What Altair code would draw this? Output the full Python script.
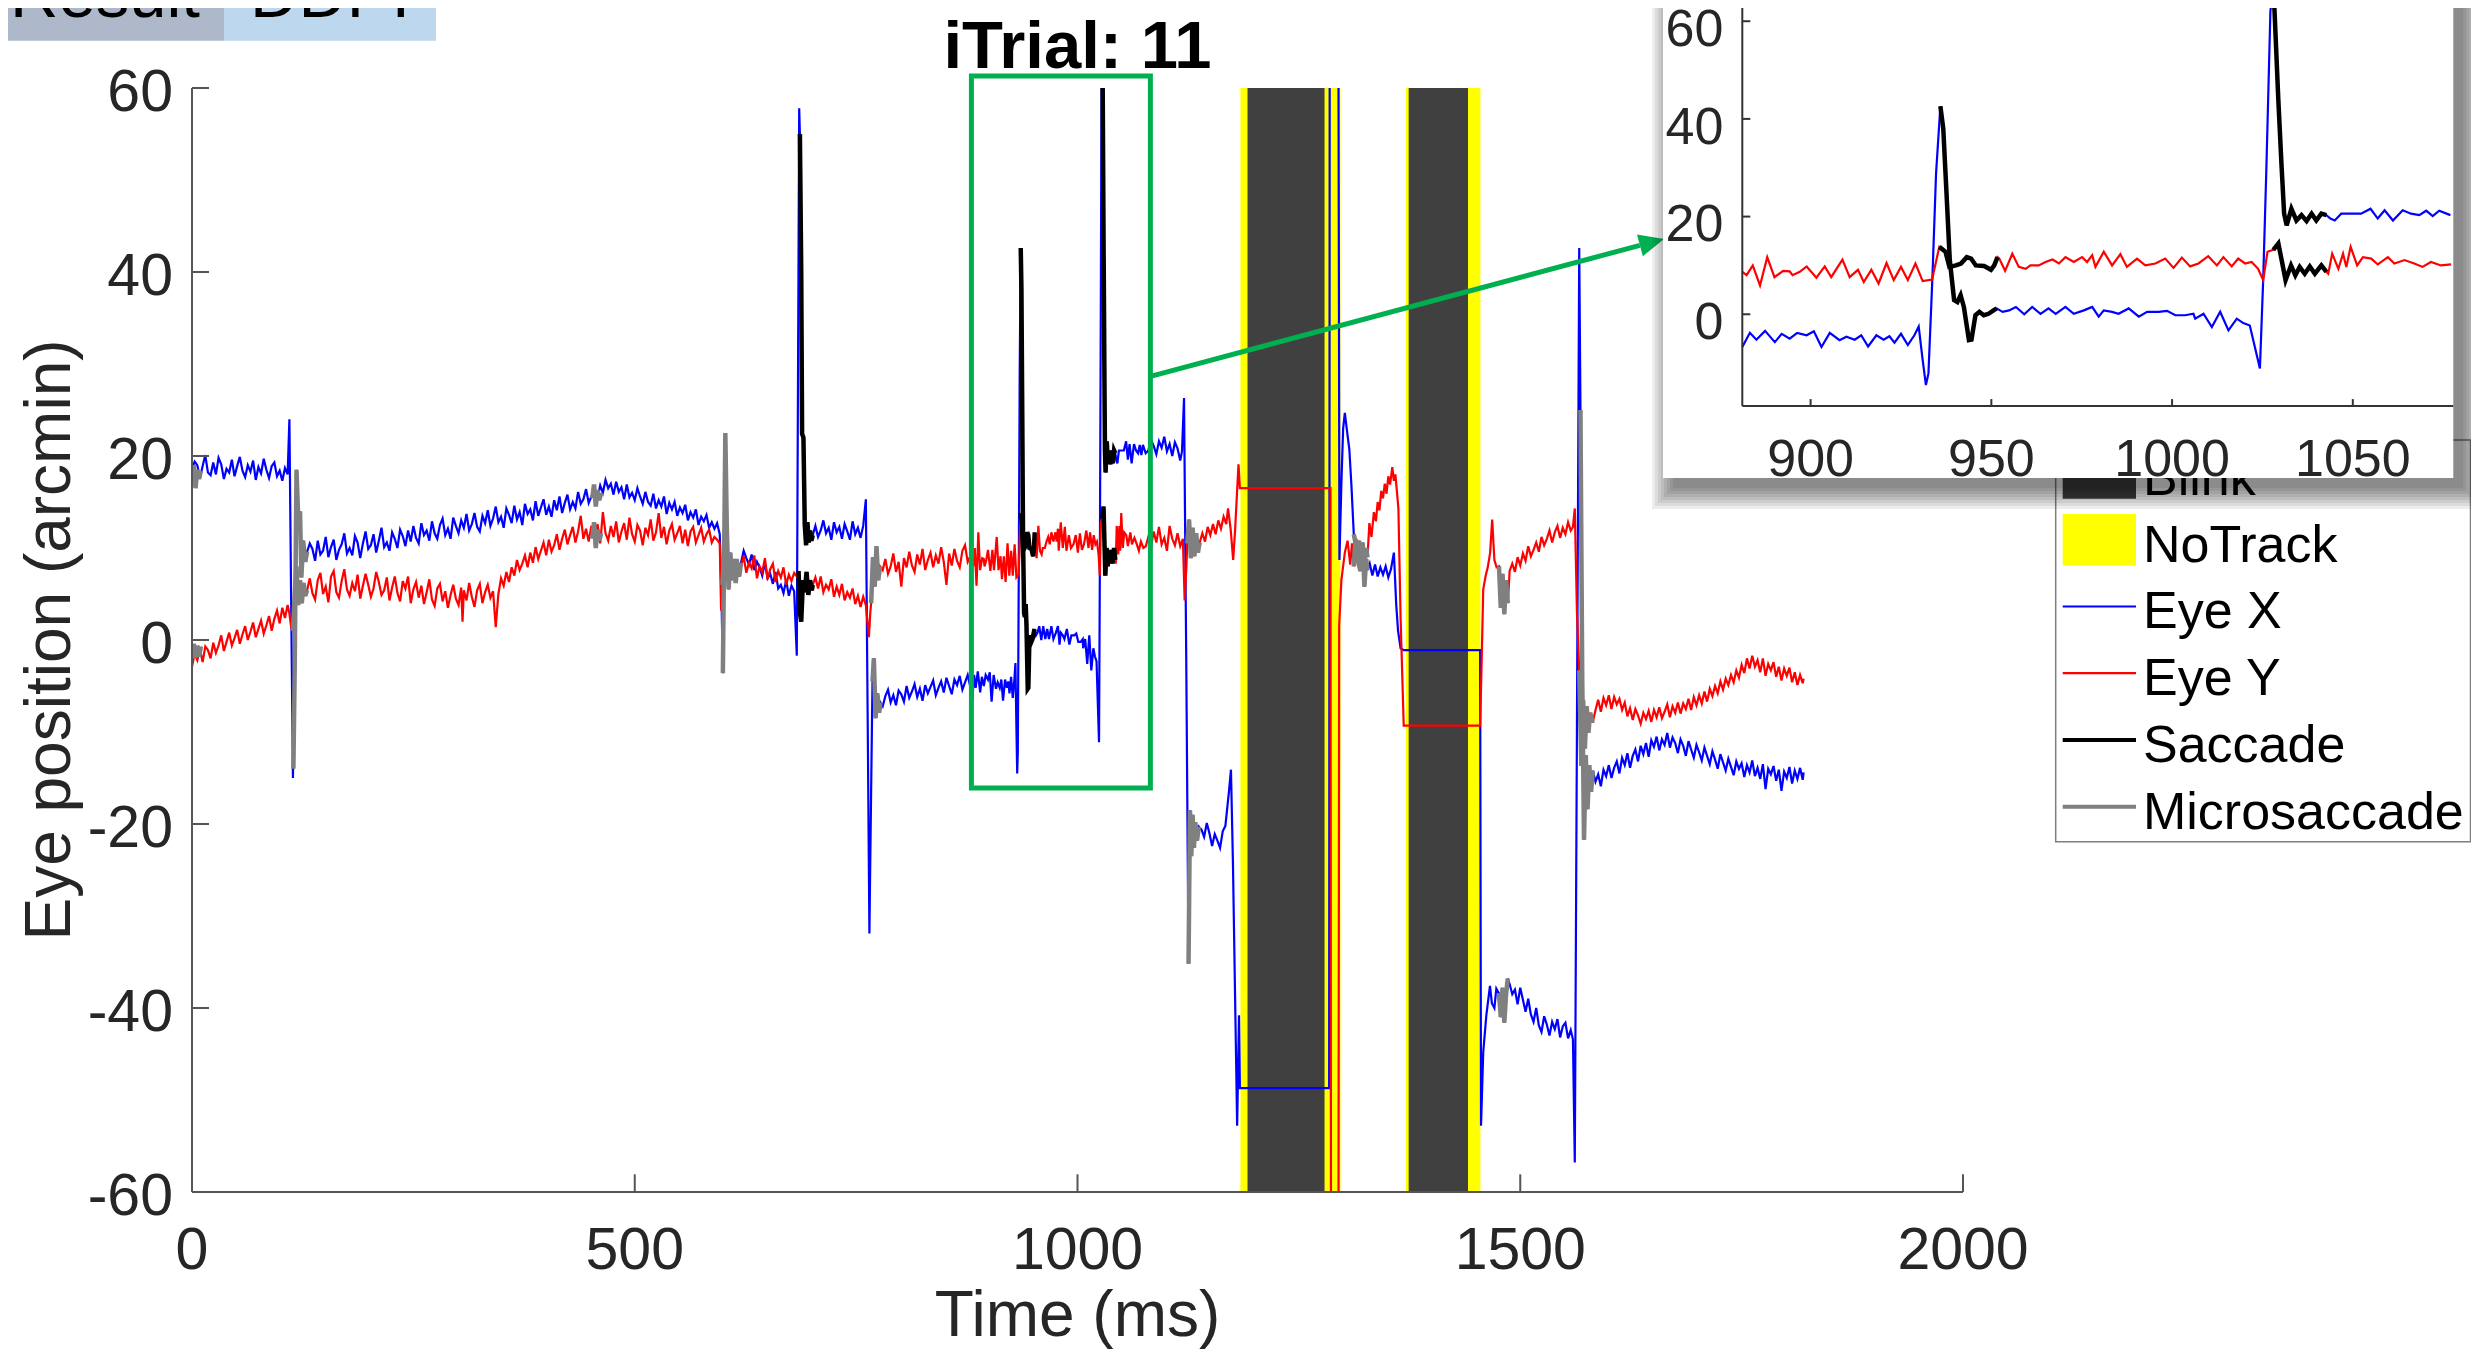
import altair as alt
import pandas as pd

# ---------------- data ----------------
# Eye X trace (time ms, arcmin)
EYE_X = [
 (0,18.6),(3,19.4),(6,19.0),(9,17.6),(12,18.9),(15,20.1),(18,18.2),(21,17.9),(24,19.3),(27,18.0),
 (30,19.8),(33,19.1),(36,17.5),(39,18.6),(42,18.2),(45,19.6),(48,17.8),(51,18.9),(54,19.9),(57,18.4),
 (60,17.7),(63,19.0),(66,18.3),(69,19.5),(72,17.4),(75,18.8),(78,18.1),(81,19.7),(84,18.5),(87,17.6),
 (90,18.9),(93,19.3),(96,17.8),(99,18.4),(102,17.3),(105,18.7),(108,18.0),
 (110,24.0),(112,4.0),(114,-15.0),(116,-3.0),(118,18.5),(120,13.0),(122,14.0),(123.5,6.8),(125.5,10.8),(128,8.5),(130,9.6),
 (133,10.5),(136,9.9),(139,8.6),(142,10.8),(145,9.3),(148,9.7),(151,11.2),(154,9.0),(157,10.1),(160,10.9),
 (163,8.7),(166,9.8),(169,10.4),(172,11.6),(175,9.4),(178,10.0),(181,9.2),(184,11.3),(187,10.6),(190,8.9),
 (193,10.5),(196,11.8),(199,9.9),(202,10.3),(205,11.5),(208,9.5),(211,10.8),(214,12.2),(217,10.1),(220,10.6),
 (223,9.7),(226,11.7),(229,11.0),(232,10.0),(235,12.0),(238,11.3),(241,10.2),(244,11.9),(247,10.7),(250,12.4),
 (253,11.1),(256,10.5),(259,12.7),(262,11.4),(265,11.9),(268,10.8),(271,12.9),(274,11.6),(277,11.0),(280,12.5),
 (283,13.2),(286,11.4),(289,12.1),(292,11.0),(295,13.3),(298,12.4),(301,11.6),(304,13.0),(307,12.2),(310,13.7),
 (313,11.9),(316,12.6),(319,13.8),(322,12.3),(325,11.8),(328,13.5),(331,12.7),(334,14.1),(337,12.4),(340,13.2),
 (343,14.5),(346,12.8),(349,13.4),(352,12.2),(355,14.3),(358,13.6),(361,12.7),(364,14.6),(367,13.1),(370,13.9),
 (373,12.5),(376,14.8),(379,13.7),(382,14.2),(385,13.0),(388,15.1),(391,13.5),(394,14.4),(397,15.3),(400,13.6),
 (403,14.5),(406,13.4),(409,15.2),(412,14.1),(415,15.6),(418,13.8),(421,14.9),(424,15.8),(427,14.2),(430,15.0),
 (433,14.3),(436,16.1),(439,14.8),(442,15.3),(445,16.4),(448,14.9),(451,15.6),
 (455,16.3),(458,15.4),(461,16.8),(464,16.0),(467,17.4),(470,16.5),(473,17.0),(476,15.8),(479,17.2),(482,16.1),
 (485,16.6),(488,15.3),(491,16.9),(494,15.5),(497,16.0),(500,15.2),(503,16.5),(506,15.6),(509,14.8),(512,16.1),
 (515,15.0),(518,14.6),(521,15.9),(524,14.3),(527,15.2),(530,14.5),(533,15.6),(536,13.7),(539,14.9),(542,14.2),
 (545,15.0),(548,13.5),(551,14.4),(554,13.8),(557,14.7),(560,13.0),(563,13.9),(566,13.3),(569,14.2),(572,12.5),
 (575,13.4),(578,12.9),(581,13.6),(584,12.2),(587,12.8),(590,12.1),(593,12.7),
 (596,11.5),(598,4.5),(599.5,-3.6),(601,10.0),(602.3,22.5),(604,12.0),(606,5.5),(608,9.5),(610,6.5),(612,8.8),
 (614,6.2),(616,8.3),(618,6.9),(620,8.4),
 (623,9.7),(626,8.9),(629,8.2),(632,9.3),(635,7.6),(638,8.5),(641,7.9),(644,7.0),(647,8.4),(650,6.7),
 (653,7.2),(656,6.1),(659,7.4),(662,5.6),(665,6.0),(668,5.1),(671,6.5),(674,4.8),(677,5.9),(680,5.3),
 (683,-1.7),(685.7,57.8),(686.5,55.0),(688,40.0),(689,22.4),(690.5,22.0),(692,12.5),(693.5,10.3),(695,12.8),(696.5,10.6),
 (698,11.9),(699.5,10.8),(701,11.4),
 (704,12.4),(707,11.2),(710,11.9),(713,13.0),(716,11.6),(719,12.2),(722,10.9),(725,12.8),(728,11.7),(731,12.3),
 (734,11.0),(737,12.6),(740,11.8),(743,10.9),(746,12.9),(749,11.5),(752,12.2),(755,11.1),(758,12.4),
 (761,15.3),(763,-8.0),(765,-31.9),(767,-16.0),(768.5,-4.5),(770,-2.0),(772,-8.5),(774,-5.8),(776,-7.9),(777.5,-6.8),
 (780,-7.2),(783,-6.1),(786,-5.4),(789,-6.8),(792,-6.0),(795,-7.1),(798,-5.5),(801,-5.9),(804,-6.7),(807,-5.0),
 (810,-6.3),(813,-5.6),(816,-4.8),(819,-6.2),(822,-5.3),(825,-6.6),(828,-4.9),(831,-5.8),(834,-5.1),(837,-4.4),
 (840,-6.0),(843,-5.2),(846,-4.5),(849,-5.7),(852,-4.1),(855,-5.0),(858,-5.9),(861,-4.3),(864,-4.9),(867,-3.9),
 (870,-5.4),(873,-4.6),(876,-3.8),(879,-5.1),
 (881.1,-6.7),(883.2,-3.8),(885,-5.2),(887.4,-3.4),(890.1,-5.7),(892,-4.0),(894.2,-5.0),(896.3,-3.8),(898.9,-4.3),(900.9,-3.5),
 (903,-6.7),(905.3,-3.8),(908,-5.3),(909.9,-4.6),(912.2,-5.2),(914,-4.3),(915.9,-6.6),(918.2,-4.3),(920.2,-5.2),(921.8,-4.5),
 (923.2,-5.8),(925,-4.0),(926.9,-6.3),(928.7,-4.3),(929.9,-2.5),(931,-9.4),(931.9,-14.5),(932.6,-12.1),(933.7,7.6),(934.7,28.8),
 (935.9,42.6),(936.7,38.0),(937.6,24.7),(938.5,11.1),(939.7,2.9),(940.6,2.5),(941.5,3.9),(942.4,1.5),(943.8,-5.3),(944.5,-5.2),
 (945.6,-0.2),(946.7,0.5),(947.9,-0.2),(949.2,0.1),(950.6,0.8),(951.5,1.2),(953.1,0.5),(954.9,0.8),(956.8,1.5),(959.1,0.0),
 (961.3,1.5),(963.6,0.1),(965.8,1.2),(967.8,0.1),(970.5,1.5),(972.8,0.1),(975.6,0.8),(977.9,1.5),(979.7,-0.5),(981.1,0.8),
 (983.4,0.5),(985.2,0.1),(988,1.2),(990.8,-0.5),(993.1,0.5),(996.3,0.5),(998.6,0.7),(1000.9,-0.2),(1003.6,-0.2),(1005.9,0.1),
 (1006.4,-0.9),(1008.7,0.1),(1011,-2.6),(1013.3,0.5),(1015.6,-3.3),(1017.9,-0.9),(1019.7,-1.8),(1021.5,-2.3),(1022.9,-6.7),(1024.3,-11.1),
 (1025.2,7.0),(1026.1,30.2),(1027.2,62.0),(1028,68.0),(1029.4,43.8),(1030.3,30.2),(1031,20.6),(1031.7,18.2),(1033,21.6),(1034.4,19.2),
 (1035.8,20.3),(1037.2,19.1),(1038.6,20.6),(1039.9,19.2),(1041.3,20.6),(1042.7,20.3),(1043.8,19.6),(1045,19.2),(1046.8,20.6),(1049.6,20.6),
 (1052.3,20.6),(1054.9,21.6),(1056.9,19.6),(1058.8,21.3),(1061.1,19.2),(1063.8,21.3),(1066.1,20.6),(1068.4,20.3),(1070.3,21.2),(1072.1,20.1),
 (1073.9,21.2),(1077,20.3),
 (1080,20.6),(1083,21.8),(1086,21.1),(1089,20.2),(1092,21.6),(1095,20.9),(1098,22.1),(1101,20.5),(1104,21.3),(1107,20.0),
 (1110,21.5),(1113,20.8),(1116,19.5),
 (1118,20.5),(1120.3,26.3),(1122.8,-2.0),(1125.4,-35.2),(1127,-18.5),(1128.5,-23.5),(1130,-19.0),(1131.5,-22.6),(1133,-19.8),(1135,-21.8),
 (1137,-20.3),(1140,-20.6),(1143,-21.4),(1146,-19.9),(1149,-21.0),(1152,-22.4),(1155,-21.1),(1158,-21.8),(1161,-22.6),(1164,-20.8),
 (1167,-20.2),(1171,-16.5),(1173.3,-14.1),(1175.5,-24.0),(1178.3,-40.8),(1180.3,-52.8),(1182.4,-40.8),(1183.4,-48.7),(1284.2,-48.7),(1285,100.0),
 (1294,100.0),(1295.8,8.7),(1298,17.0),(1300,23.0),(1301.9,24.7),(1304,23.0),(1307,20.7),(1309.4,16.7),(1312,11.5),(1314.5,10.3),
 (1317,8.5),(1319.5,7.5),(1322,10.6),(1324,5.8),(1326,8.8),(1327.5,7.6),
 (1330,8.3),(1333,7.0),(1336,8.2),(1339,6.9),(1342,7.9),(1345,7.1),(1348,8.0),(1351,6.8),(1354,7.7),
 (1357.3,9.5),(1359.9,3.9),(1362,1.0),(1364.9,-0.9),(1368.4,-1.1),(1454.7,-1.1),(1455.7,-52.8),(1458.2,-44.8),(1461.7,-40.8),(1465.8,-37.6),
 (1468,-39.5),(1470.8,-40.0),(1473,-37.9),(1475.9,-38.4),(1478,-41.0),(1480,-37.8),(1482,-41.6),(1484,-38.5),(1485.9,-36.8),
 (1488,-37.4),(1491,-38.5),(1494,-38.0),(1497,-39.6),(1500,-37.8),(1503,-39.1),(1506,-40.4),(1509,-39.0),(1512,-40.7),(1515,-41.5),
 (1518,-40.0),(1521,-41.9),(1524,-42.6),(1527,-40.9),(1530,-41.8),(1533,-43.0),(1536,-41.5),(1539,-42.3),(1542,-41.2),(1545,-43.2),
 (1548,-42.0),(1551,-41.6),(1554,-43.3),(1557,-42.4),(1559.5,-43.4),
 (1561.6,-56.8),(1564,-10.0),(1566.6,42.6),(1568,25.0),(1570,-4.1),(1572,-21.7),(1574,-12.5),(1576,-18.4),(1578,-13.6),(1580,-16.5),
 (1582,-14.2),
 (1585,-15.4),(1588,-14.6),(1591,-15.9),(1594,-14.1),(1597,-14.8),(1600,-13.6),(1603,-15.0),(1606,-13.9),(1609,-13.2),(1612,-14.5),
 (1615,-12.8),(1618,-13.6),(1621,-12.3),(1624,-13.9),(1627,-12.6),(1630,-11.9),(1633,-13.2),(1636,-11.5),(1639,-12.4),(1642,-11.2),
 (1645,-12.7),(1648,-10.9),(1651,-11.6),(1654,-10.5),(1657,-12.0),(1660,-10.8),(1663,-11.4),(1666,-10.1),(1669,-11.7),(1672,-10.6),
 (1675,-11.2),(1678,-12.3),(1681,-10.8),(1684,-11.5),(1687,-12.6),(1690,-11.0),(1693,-11.9),(1696,-12.8),(1699,-11.4),(1702,-12.2),
 (1705,-13.1),(1708,-11.7),(1711,-12.6),(1714,-13.5),(1717,-12.1),(1720,-13.0),(1723,-14.0),(1726,-12.4),(1729,-13.3),(1732,-14.2),
 (1735,-12.9),(1738,-13.8),(1741,-14.7),(1744,-13.2),(1747,-14.0),(1750,-13.4),(1753,-14.9),(1756,-13.6),(1759,-14.4),(1762,-13.1),
 (1765,-14.8),(1768,-13.9),(1771,-15.1),(1774,-13.5),(1777,-16.2),(1780,-14.0),(1783,-14.6),(1786,-13.7),(1789,-15.3),(1792,-14.1),
 (1795,-16.4),(1798,-14.3),(1801,-15.0),(1804,-13.8),(1807,-15.6),(1810,-14.2),(1813,-15.1),(1816,-13.9),(1819,-15.2),(1820,-14.4),
]

# Eye Y trace (time ms, arcmin)
EYE_Y = [
 (0,-2.9),(3,-1.5),(6,-2.2),(9,-1.0),(12,-2.4),(15,-0.7),(18,-1.1),(21,-2.0),(24,-0.3),(27,-1.4),
 (30,-0.6),(33,0.5),(36,-1.2),(39,-0.2),(42,0.8),(45,-0.6),(48,0.2),(51,1.1),(54,-0.4),(57,0.6),
 (60,1.5),(63,0.0),(66,0.9),(69,1.9),(72,0.3),(75,1.2),(78,2.1),(81,0.7),(84,1.6),(87,2.6),
 (90,1.0),(93,2.3),(96,3.2),(99,1.8),(102,3.5),(105,2.4),(108,3.8),(110,2.9),(112,1.4),
 (114,1.0),(116,5.0),(118,8.0),(120,3.8),(122,6.5),(124,4.0),(126,6.2),(128,4.8),(130,5.4),
 (133,6.7),(136,5.1),(139,4.4),(142,6.5),(145,7.3),(148,5.0),(151,5.8),(154,4.1),(157,6.9),(160,7.5),
 (163,5.2),(166,4.6),(169,6.4),(172,7.7),(175,5.5),(178,4.8),(181,6.2),(184,5.3),(187,7.1),(190,4.5),
 (193,5.9),(196,7.2),(199,6.0),(202,4.7),(205,5.6),(208,7.4),(211,6.3),(214,4.9),(217,5.4),(220,6.8),
 (223,4.3),(226,5.7),(229,6.9),(232,5.1),(235,4.2),(238,6.4),(241,5.6),(244,6.9),(247,4.0),(250,5.5),
 (253,6.3),(256,4.6),(259,5.9),(262,3.9),(265,5.2),(268,6.6),(271,4.4),(274,3.7),(277,5.6),(280,6.1),
 (283,4.2),(286,5.3),(289,3.5),(292,4.9),(295,6.0),(298,4.5),(301,3.8),(304,5.7),(305.5,2.0),(307,5.4),
 (310,4.3),(313,6.2),(316,4.7),(319,3.6),(322,5.4),(325,6.1),(328,4.0),(331,5.2),(334,6.0),(337,4.6),
 (340,5.3),(343,1.4),(346,5.0),(349,6.7),(352,5.9),(355,7.4),(358,6.3),(361,7.9),(364,7.0),(367,8.7),
 (370,7.6),(373,8.3),(376,9.2),(379,7.9),(382,9.5),(385,8.4),(388,10.1),(391,8.8),(394,9.7),(397,10.6),
 (400,9.2),(403,10.9),(406,9.6),(409,10.3),(412,11.5),(415,9.8),(418,11.0),(421,12.0),(424,10.4),(427,11.4),
 (430,12.3),(433,10.6),(436,11.8),(439,13.5),(442,11.0),(445,12.1),(448,10.7),(451,12.4),
 (455,11.3),(458,12.6),(461,10.5),(464,13.9),(467,11.6),(470,10.8),(473,12.4),(476,11.2),(479,12.9),(482,10.6),
 (485,11.8),(488,12.7),(491,10.9),(494,13.3),(497,11.5),(500,10.7),(503,12.5),(506,11.9),(509,10.3),(512,12.2),
 (515,11.4),(518,13.1),(521,10.8),(524,11.7),(527,13.8),(530,11.1),(533,12.3),(536,10.4),(539,11.9),(542,12.6),
 (545,10.9),(548,11.6),(551,12.4),(554,10.5),(557,12.0),(560,10.2),(563,11.8),(566,12.3),(569,10.6),(572,11.4),
 (575,12.2),(578,10.7),(581,11.5),(584,12.0),(587,10.6),(590,11.2),(593,10.9),
 (596,10.5),(597.5,3.2),(599,6.0),(601,9.5),(603,10.5),(605,6.5),(607,8.5),(609,6.8),(611,8.4),(613,6.9),
 (615,8.8),(617,7.2),(620,8.0),
 (623,9.1),(626,7.3),(629,8.4),(632,7.8),(635,9.2),(638,6.7),(641,8.0),(644,7.4),(647,8.9),(650,6.6),
 (653,7.7),(656,8.3),(659,6.3),(662,7.5),(665,6.8),(668,7.9),(671,6.0),(674,7.1),(677,6.4),(680,7.3),
 (683,6.9),(685,7.5),(686.5,3.0),(688,2.0),(690,6.5),(692,5.2),(694,7.4),(696,4.9),(698,6.5),(700,5.4),
 (701,6.0),
 (704,6.8),(707,5.6),(710,6.9),(713,5.2),(716,6.0),(719,5.5),(722,6.6),(725,4.7),(728,5.8),(731,4.9),
 (734,6.1),(737,4.3),(740,5.2),(743,4.6),(746,5.6),(749,3.9),(752,4.8),(755,3.6),(758,4.7),(761,3.8),
 (764.4,0.3),(766,3.0),(767,4.0),(769,9.0),(771,5.8),(773,10.2),(775,6.5),(777,8.0),
 (780,7.6),(783,8.8),(786,7.2),(789,8.0),(792,9.4),(795,7.4),(798,8.5),(801,5.8),(804,8.9),(807,7.9),
 (810,9.6),(813,8.1),(816,7.4),(819,9.3),(822,8.2),(825,9.9),(828,7.6),(831,8.7),(834,9.5),(837,7.9),
 (840,9.2),(843,8.3),(846,10.1),(849,8.5),(852,6.0),(855,9.4),(858,8.1),(861,9.9),(864,8.6),(867,7.9),
 (870,9.7),(873,10.3),(876,8.5),(879,9.1),
 (881.1,8.7),(882.3,8.0),(884,10.0),(886,5.9),(888,11.7),(890,7.6),(892.4,8.9),(894.2,8.8),(895,8.0),(897,8.7),
 (898.9,9.8),(901.6,7.5),(903.9,9.8),(905.7,7.6),(908.8,11.2),(910.8,7.6),(913.1,9.1),(914.7,6.6),(916.8,9.1),(918.8,6.3),
 (921,10.5),(923,7.0),(925,9.7),(926.9,7.0),(929,10.4),(931,6.8),(933.6,7.1),(935.6,13.8),(937.3,12.8),(938.4,9.7),
 (940.2,10.0),(941.6,10.4),(943.2,11.7),(944.4,11.4),(945.7,10.0),(948,9.9),(949.9,9.1),(950.8,10.0),(951.7,11.7),(952.2,11.4),
 (953.8,8.9),(955.8,12.4),(957.6,9.7),(959.5,9.3),(960.8,10.0),(963.1,10.0),(965,10.7),(966.9,11.2),(968.7,10.4),(970.5,11.7),
 (972.8,10.7),(975.1,11.7),(976.5,10.7),(977.9,12.1),(978.8,9.7),(981.1,12.8),(983.4,10.0),(985.7,12.3),(987.5,9.7),(990.3,11.4),
 (992.6,10.0),(995.4,10.4),(998.1,11.4),(1000.4,9.5),(1002.7,11.6),(1005,9.8),(1007.3,10.4),(1010,11.9),(1012.4,10.0),(1014.2,11.7),
 (1016.5,9.8),(1018.3,11.4),(1020.2,10.4),(1022,10.7),(1023.8,9.3),(1025.2,7.0),(1026.4,12.8),(1028,13.2),(1029.4,14.5),(1030.5,10.4),
 (1031.4,7.0),(1032.9,10.0),(1034.1,8.0),(1035.3,9.7),(1036.7,8.3),(1038.1,9.8),(1039.5,8.3),(1041.3,10.0),(1042.7,8.7),(1043.2,8.3),
 (1044.3,12.4),(1046,9.3),(1047.3,12.4),(1048.2,9.7),(1049.4,13.8),(1051.2,10.0),(1052.8,11.7),(1055.1,11.4),(1056.9,10.2),(1059.7,11.7),
 (1061.5,10.4),(1064.3,11.1),(1067,10.4),(1069.3,9.7),(1071.6,10.7),(1074.4,10.0),(1077.2,10.2),
 (1080,11.2),(1083,10.1),(1086,11.8),(1089,10.6),(1092,12.3),(1095,10.4),(1098,11.1),(1101,9.7),(1104,12.4),(1107,11.0),
 (1110,10.3),(1113,11.6),(1116,10.2),(1119,11.0),
 (1121,4.3),(1123,8.0),(1124,10.5),(1126,13.1),(1128,8.9),(1130,12.2),(1132,9.1),(1134,11.6),(1136,9.5),(1138,10.6),
 (1141,11.6),(1144,10.7),(1147,12.3),(1150,11.4),(1153,12.6),(1156,11.5),(1159,13.0),(1162,12.1),(1165,13.4),(1168,12.6),
 (1170,14.3),(1173,12.0),(1175.8,8.7),(1178,12.0),(1181.8,19.1),(1183.4,16.5),(1285.7,16.5),(1286.5,-100.0),(1294.3,-100.0),(1295.5,1.5),
 (1298,6.5),(1301.9,9.5),(1305,10.8),(1308,8.2),(1310,10.5),(1312,8.0),(1314,11.0),(1316,8.5),(1318,10.8),(1320,7.8),
 (1322,10.5),(1324,8.2),(1326,10.0),(1327.5,9.0),(1329.6,12.7),(1332,11.2),(1334.7,13.9),(1337,12.9),(1339,15.0),(1341,14.1),
 (1343,16.2),(1345,15.4),(1347,17.0),(1349,15.9),(1351,17.8),(1353,16.9),(1355.5,18.8),(1357.3,17.3),(1359,18.0),(1362.4,14.3),
 (1364.9,2.3),(1368.4,-9.3),(1454.7,-9.3),(1456.5,-2.0),(1458.2,5.5),(1461,7.0),(1463.3,7.9),(1466,9.5),(1468.3,13.1),(1470.8,8.7),
 (1473.3,7.9),(1476,8.0),(1478,3.5),(1480,7.2),(1482,2.8),(1484,6.5),(1486,4.0),
 (1488,7.5),(1491,8.3),(1494,7.4),(1497,9.0),(1500,8.1),(1503,9.4),(1506,8.6),(1509,10.2),(1512,9.1),(1515,9.8),
 (1518,10.6),(1521,9.6),(1524,11.2),(1527,10.3),(1530,11.0),(1533,11.9),(1536,10.6),(1539,11.7),(1542,12.4),(1545,11.1),
 (1548,12.2),(1551,11.5),(1554,12.8),(1557,11.9),(1559.5,12.3),
 (1561.6,14.3),(1564,3.1),(1566.6,-3.3),(1569,-13.7),(1571,-6.5),(1573,-11.8),(1575,-7.2),(1577,-10.1),(1579,-7.9),(1581.8,-9.0),
 (1585,-7.6),(1588,-6.5),(1591,-7.8),(1594,-6.3),(1597,-7.1),(1600,-6.0),(1603,-7.5),(1606,-6.2),(1609,-7.0),(1612,-6.4),
 (1615,-7.6),(1618,-6.8),(1621,-8.3),(1624,-7.4),(1627,-8.7),(1630,-7.5),(1633,-8.2),(1636,-9.1),(1639,-7.9),(1642,-8.6),
 (1645,-7.7),(1648,-8.9),(1651,-7.6),(1654,-8.4),(1657,-7.3),(1660,-8.5),(1663,-7.8),(1666,-7.0),(1669,-8.4),(1672,-7.2),
 (1675,-7.9),(1678,-6.8),(1681,-8.0),(1684,-6.9),(1687,-7.5),(1690,-6.4),(1693,-7.6),(1696,-6.2),(1699,-7.1),(1702,-6.0),
 (1705,-6.9),(1708,-5.6),(1711,-6.7),(1714,-5.3),(1717,-6.1),(1720,-5.0),(1723,-5.8),(1726,-4.5),(1729,-5.4),(1732,-4.2),
 (1735,-4.9),(1738,-3.8),(1741,-4.6),(1744,-3.3),(1747,-4.1),(1750,-2.7),(1753,-3.6),(1756,-2.0),(1759,-3.1),(1762,-1.7),
 (1765,-2.9),(1768,-2.2),(1771,-3.5),(1774,-2.0),(1777,-3.9),(1780,-2.6),(1783,-3.3),(1786,-2.4),(1789,-4.0),(1792,-2.9),
 (1795,-4.4),(1798,-3.1),(1801,-3.9),(1804,-3.0),(1807,-4.6),(1810,-3.5),(1813,-4.9),(1816,-3.8),(1819,-4.7),(1820,-4.2),
]

# Saccade segments (segment id, time ms, arcmin)
SACCADE = [
 ("s1x",686.5,55.0),("s1x",688,40.0),("s1x",689,22.4),("s1x",690.5,22.0),("s1x",692,12.5),("s1x",693.5,10.3),
 ("s1x",695,12.8),("s1x",696.5,10.6),("s1x",698,11.9),("s1x",699.5,10.8),("s1x",701,11.4),
 ("s1y",685,7.5),("s1y",686.5,3.0),("s1y",688,2.0),("s1y",690,6.5),("s1y",692,5.2),("s1y",694,7.4),
 ("s1y",696,4.9),("s1y",698,6.5),("s1y",700,5.4),("s1y",701,6.0),
 ("s2x",935.9,42.6),("s2x",936.7,38.0),("s2x",937.6,24.7),("s2x",938.5,11.1),("s2x",939.7,2.9),("s2x",940.6,2.5),
 ("s2x",941.5,3.9),("s2x",942.4,1.5),("s2x",943.8,-5.3),("s2x",944.5,-5.2),("s2x",945.6,-0.2),("s2x",946.7,0.5),
 ("s2x",947.9,-0.2),("s2x",949.2,0.1),("s2x",950.6,0.8),("s2x",951.5,1.2),
 ("s2y",935.6,13.8),("s2y",937.3,12.8),("s2y",938.4,9.7),("s2y",940.2,10.0),("s2y",941.6,10.4),("s2y",943.2,11.7),
 ("s2y",944.4,11.4),("s2y",945.7,10.0),("s2y",948,9.9),("s2y",949.9,9.1),("s2y",950.8,10.0),("s2y",951.7,11.7),
 ("s3x",1028,68.0),("s3x",1029.4,43.8),("s3x",1030.3,30.2),("s3x",1031,20.6),("s3x",1031.7,18.2),("s3x",1033,21.6),
 ("s3x",1034.4,19.2),("s3x",1035.8,20.3),("s3x",1037.2,19.1),("s3x",1038.6,20.6),("s3x",1039.9,19.2),("s3x",1041.3,20.6),
 ("s3x",1042.7,20.3),
 ("s3y",1028,13.2),("s3y",1029.4,14.5),("s3y",1030.5,10.4),("s3y",1031.4,7.0),("s3y",1032.9,10.0),("s3y",1034.1,8.0),
 ("s3y",1035.3,9.7),("s3y",1036.7,8.3),("s3y",1038.1,9.8),("s3y",1039.5,8.3),("s3y",1041.3,10.0),("s3y",1042.7,8.7),
]

# Microsaccade segments (segment id, time ms, arcmin)
MICROSACCADE = [
 ("m0x",0,17.0),("m0x",2,19.0),("m0x",4,16.5),("m0x",6,18.5),("m0x",8,17.5),("m0x",10,18.4),
 ("m0y",0,-2.0),("m0y",2,-0.4),("m0y",4,-1.9),("m0y",6,-0.6),("m0y",8,-1.8),("m0y",10,-0.7),
 ("m1x",114.5,-14.0),("m1x",116,-3.0),("m1x",118,18.5),("m1x",120,13.0),("m1x",122,14.0),("m1x",123.5,6.8),
 ("m1x",125.5,10.8),("m1x",128,8.5),("m1x",130,9.6),
 ("m1y",114,1.0),("m1y",116,5.0),("m1y",118,8.0),("m1y",120,3.8),("m1y",122,6.5),("m1y",124,4.0),
 ("m1y",126,6.2),("m1y",128,4.8),("m1y",130,5.4),
 ("m2x",452,15.4),("m2x",454,16.9),("m2x",456,14.5),("m2x",458,16.3),("m2x",460,15.2),("m2x",462,16.0),
 ("m2y",452,11.0),("m2y",454,12.8),("m2y",456,10.0),("m2y",458,12.0),("m2y",460,10.8),("m2y",462,11.6),
 ("m3x",599.5,-3.6),("m3x",601,10.0),("m3x",602.3,22.5),("m3x",604,12.0),("m3x",606,5.5),("m3x",608,9.5),
 ("m3x",610,6.5),("m3x",612,8.8),("m3x",614,6.2),("m3x",616,8.3),("m3x",618,6.9),("m3x",620,8.4),
 ("m3y",599,6.0),("m3y",601,9.5),("m3y",603,10.5),("m3y",605,6.5),("m3y",607,8.5),("m3y",609,6.8),
 ("m3y",611,8.4),("m3y",613,6.9),("m3y",615,8.8),("m3y",617,7.2),("m3y",619,8.2),
 ("m4x",768.5,-4.5),("m4x",770,-2.0),("m4x",772,-8.5),("m4x",774,-5.8),("m4x",776,-7.9),("m4x",777.5,-6.8),
 ("m4y",767,4.0),("m4y",769,9.0),("m4y",771,5.8),("m4y",773,10.2),("m4y",775,6.5),("m4y",777,8.0),
 ("m5x",1125.4,-35.2),("m5x",1127,-18.5),("m5x",1128.5,-23.5),("m5x",1130,-19.0),("m5x",1131.5,-22.6),
 ("m5x",1133,-19.8),("m5x",1135,-21.8),("m5x",1137,-20.3),
 ("m5y",1124,10.5),("m5y",1126,13.1),("m5y",1128,8.9),("m5y",1130,12.2),("m5y",1132,9.1),("m5y",1134,11.6),
 ("m5y",1136,9.5),("m5y",1138,10.6),
 ("m6x",1312,11.5),("m6x",1314.5,10.3),("m6x",1317,8.5),("m6x",1319.5,7.5),("m6x",1322,10.6),("m6x",1324,5.8),
 ("m6x",1326,8.8),("m6x",1327.5,7.6),
 ("m6y",1312,8.0),("m6y",1314,11.0),("m6y",1316,8.5),("m6y",1318,10.8),("m6y",1320,7.8),("m6y",1322,10.5),
 ("m6y",1324,8.2),("m6y",1326,10.0),("m6y",1327.5,9.0),
 ("m7x",1475.9,-38.4),("m7x",1478,-41.0),("m7x",1480,-37.8),("m7x",1482,-41.6),("m7x",1484,-38.5),("m7x",1485.9,-36.8),
 ("m7y",1476,8.0),("m7y",1478,3.5),("m7y",1480,7.2),("m7y",1482,2.8),("m7y",1484,6.5),("m7y",1486,4.0),
 ("m8x",1568,25.0),("m8x",1570,-4.1),("m8x",1572,-21.7),("m8x",1574,-12.5),("m8x",1576,-18.4),("m8x",1578,-13.6),
 ("m8x",1580,-16.5),("m8x",1582,-14.2),
 ("m8y",1566.6,-3.3),("m8y",1569,-13.7),("m8y",1571,-6.5),("m8y",1573,-11.8),("m8y",1575,-7.2),("m8y",1577,-10.1),
 ("m8y",1579,-7.9),("m8y",1581.8,-9.0),
]

BLINK_START = [1192, 1374]
BLINK_END = [1279, 1441]
NOTRACK_START = [1184, 1371]
NOTRACK_END = [1297, 1455]

X_TICKS = [0, 500, 1000, 1500, 2000]
Y_TICKS = [-60, -40, -20, 0, 20, 40, 60]
INSET_X_TICKS = [900, 950, 1000, 1050]
INSET_Y_TICKS = [0, 20, 40, 60]
INSET_T = [881.1, 1077.8]
INSET_V = [-18.8, 65]

ZOOM_T = [880.2, 1082.3]
ZOOM_V = [-16.1, 61.3]
ARROW_T = [1082.5, 1635.1, 1662.4]   # start, shaft end, tip
ARROW_V = [28.66, 42.9, 43.6]

LEGEND_LABELS = ["Blink", "NoTrack", "Eye X", "Eye Y", "Saccade", "Microsaccade"]
LEGEND_COLORS = ["#404040", "#FFFF00", "#0000FF", "#FF0000", "#000000", "#808080"]
LEGEND_KIND = ["patch", "patch", "line", "line", "line", "line"]
LEGEND_WIDTH = [0, 0, 2.2, 2.2, 4, 4]

TITLE = "iTrial: 11"
X_TITLE = "Time (ms)"
Y_TITLE = "Eye position (arcmin)"
TABS = ["Result", "DDPI"]
TAB_COLORS = ["#ADB9CA", "#BDD7EE"]

# ---------------- layout constants ----------------
FONT = "Liberation Sans"
TXT = "#262626"
AX = "#555555"
W, H = 1771, 1104
ONE = pd.DataFrame({"k": [0]})


def pairs(p):
    return pd.DataFrame(p, columns=["t", "v"])


def segs(p):
    return pd.DataFrame(p, columns=["seg", "t", "v"])


def ticks_df(vals):
    return pd.DataFrame({"v": vals, "lab": [str(v) for v in vals]})


def one_text(s):
    return pd.DataFrame({"s": [s]})


# ---------------- main plot ----------------
xs = alt.Scale(domain=[0, 2000], nice=False, zero=False)
ys = alt.Scale(domain=[-60, 60], nice=False, zero=False)

notrack = alt.Chart(pd.DataFrame({"s": NOTRACK_START, "e": NOTRACK_END})).mark_rect(
    color="#FFFF00").encode(
    x=alt.X("s:Q", scale=xs, axis=None), x2="e:Q", y=alt.value(0), y2=alt.value(H))
blink = alt.Chart(pd.DataFrame({"s": BLINK_START, "e": BLINK_END})).mark_rect(
    color="#404040").encode(
    x=alt.X("s:Q", scale=xs, axis=None), x2="e:Q", y=alt.value(0), y2=alt.value(H))

eye_x = alt.Chart(pairs(EYE_X)).mark_line(color="#0000FF", strokeWidth=2.2, clip=True).encode(
    x=alt.X("t:Q", scale=xs, axis=None), y=alt.Y("v:Q", scale=ys, axis=None))
eye_y = alt.Chart(pairs(EYE_Y)).mark_line(color="#FF0000", strokeWidth=2.2, clip=True).encode(
    x=alt.X("t:Q", scale=xs, axis=None), y=alt.Y("v:Q", scale=ys, axis=None))
micro = alt.Chart(segs(MICROSACCADE)).mark_line(color="#808080", strokeWidth=4.5, clip=True).encode(
    x=alt.X("t:Q", scale=xs, axis=None), y=alt.Y("v:Q", scale=ys, axis=None), detail="seg:N")
sacc = alt.Chart(segs(SACCADE)).mark_line(color="#000000", strokeWidth=4.5, clip=True).encode(
    x=alt.X("t:Q", scale=xs, axis=None), y=alt.Y("v:Q", scale=ys, axis=None), detail="seg:N")

# axes (domain lines, inward ticks, labels, titles)
x_dom = alt.Chart(ONE).mark_rule(color=AX, strokeWidth=2).encode(
    x=alt.value(0), x2=alt.value(W), y=alt.value(H))
y_dom = alt.Chart(ONE).mark_rule(color=AX, strokeWidth=2).encode(
    x=alt.value(0), y=alt.value(0), y2=alt.value(H))
xticks = alt.Chart(ticks_df(X_TICKS)).mark_rule(color=AX, strokeWidth=2).encode(
    x=alt.X("v:Q", scale=xs, axis=None), y=alt.value(H), y2=alt.value(H - 17.7))
yticks = alt.Chart(ticks_df(Y_TICKS)).mark_rule(color=AX, strokeWidth=2).encode(
    y=alt.Y("v:Q", scale=ys, axis=None), x=alt.value(0), x2=alt.value(17))
xlabels = alt.Chart(ticks_df(X_TICKS)).mark_text(
    font=FONT, fontSize=59, color=TXT, align="center", baseline="alphabetic").encode(
    x=alt.X("v:Q", scale=xs, axis=None), y=alt.value(1181.2), text="lab:N")
ylabels = alt.Chart(ticks_df(Y_TICKS)).mark_text(
    font=FONT, fontSize=59, color=TXT, align="right", baseline="alphabetic", dy=23.4).encode(
    y=alt.Y("v:Q", scale=ys, axis=None), x=alt.value(-19), text="lab:N")
xtitle = alt.Chart(one_text(X_TITLE)).mark_text(
    font=FONT, fontSize=64, color=TXT, align="center", baseline="alphabetic").encode(
    x=alt.value(W / 2), y=alt.value(1248), text="s:N")
ytitle = alt.Chart(one_text(Y_TITLE)).mark_text(
    font=FONT, fontSize=64, color=TXT, align="center", baseline="alphabetic", angle=270).encode(
    x=alt.value(-122), y=alt.value(H / 2), text="s:N")

zoom_box = alt.Chart(pd.DataFrame({"x1": [ZOOM_T[0]], "x2": [ZOOM_T[1]],
                                   "y1": [ZOOM_V[0]], "y2": [ZOOM_V[1]]})).mark_rect(
    fillOpacity=0, stroke="#00B050", strokeWidth=5).encode(
    x=alt.X("x1:Q", scale=xs, axis=None), x2="x2:Q",
    y=alt.Y("y1:Q", scale=ys, axis=None), y2="y2:Q")
arrow_line = alt.Chart(pd.DataFrame({"x1": [ARROW_T[0]], "x2": [ARROW_T[1]],
                                     "y1": [ARROW_V[0]], "y2": [ARROW_V[1]]})).mark_rule(
    color="#00B050", strokeWidth=5).encode(
    x=alt.X("x1:Q", scale=xs, axis=None), x2="x2:Q",
    y=alt.Y("y1:Q", scale=ys, axis=None), y2="y2:Q")
arrow_head = alt.Chart(pd.DataFrame({"x": [ARROW_T[2]], "y": [ARROW_V[2]]})).mark_point(
    shape="M0,0L-2,-0.9L-2,0.9Z", filled=True, color="#00B050", size=625, angle=345,
    opacity=1).encode(
    x=alt.X("x:Q", scale=xs, axis=None), y=alt.Y("y:Q", scale=ys, axis=None))

title_txt = alt.Chart(one_text(TITLE)).mark_text(
    font=FONT, fontSize=67, fontWeight="bold", color="black", align="center",
    baseline="alphabetic").encode(x=alt.value(W / 2), y=alt.value(-20), text="s:N")

tab1 = alt.Chart(ONE).mark_rect(color=TAB_COLORS[0]).encode(
    x=alt.value(-192), x2=alt.value(32), y=alt.value(-100), y2=alt.value(-47.3))
tab2 = alt.Chart(ONE).mark_rect(color=TAB_COLORS[1]).encode(
    x=alt.value(32), x2=alt.value(244), y=alt.value(-100), y2=alt.value(-47.3))
tab1_txt = alt.Chart(one_text(TABS[0])).mark_text(
    font=FONT, fontSize=67, color="black", align="right", baseline="alphabetic").encode(
    x=alt.value(8), y=alt.value(-71), text="s:N")
tab2_txt = alt.Chart(one_text(TABS[1])).mark_text(
    font=FONT, fontSize=67, color="black", align="left", baseline="alphabetic").encode(
    x=alt.value(58), y=alt.value(-71), text="s:N")

main = alt.layer(notrack, blink, eye_x, eye_y, micro, sacc,
                 x_dom, y_dom, xticks, yticks, xlabels, ylabels, xtitle, ytitle,
                 zoom_box, arrow_line, arrow_head, title_txt,
                 tab1, tab2, tab1_txt, tab2_txt)

# ---------------- legend ----------------
leg_scale = alt.Scale(type="point", domain=LEGEND_LABELS, range=[385, 718.7], padding=0)
leg_df = pd.DataFrame({"label": LEGEND_LABELS, "color": LEGEND_COLORS,
                       "kind": LEGEND_KIND, "w": LEGEND_WIDTH})
leg_frame = alt.Chart(ONE).mark_rect(fill="white", stroke="#7f7f7f", strokeWidth=1.5).encode(
    x=alt.value(1863.7), x2=alt.value(2278.5), y=alt.value(352), y2=alt.value(753.7))
leg_patch = alt.Chart(leg_df).transform_filter(alt.datum.kind == "patch").mark_point(
    shape="M-1,-0.7H1V0.7H-1Z", filled=True, size=5373, opacity=1).encode(
    x=alt.value(1907.35), y=alt.Y("label:N", scale=leg_scale, axis=None),
    color=alt.Color("color:N", scale=None))
leg_line = alt.Chart(leg_df).transform_filter(alt.datum.kind == "line").mark_point(
    shape="M-1,0H1", filled=False, size=5373, opacity=1).encode(
    x=alt.value(1907.35), y=alt.Y("label:N", scale=leg_scale, axis=None),
    color=alt.Color("color:N", scale=None),
    strokeWidth=alt.StrokeWidth("w:Q", scale=None))
leg_text = alt.Chart(leg_df).mark_text(
    font=FONT, fontSize=52, color="black", align="left", baseline="alphabetic", dy=21.8).encode(
    x=alt.value(1951), y=alt.Y("label:N", scale=leg_scale, axis=None), text="label:N")
legend = alt.layer(leg_frame, leg_patch, leg_line, leg_text)

# ---------------- inset ----------------
IX0, IX1, IY0 = 1550.3, 2261.3, 318.1
ixs = alt.Scale(domain=INSET_T, range=[IX0, IX1], nice=False, zero=False)
iys = alt.Scale(domain=INSET_V, range=[IY0, -91.2], nice=False, zero=False)
in_range = alt.FieldRangePredicate(field="t", range=INSET_T)

shadows = []
for k in range(8):
    shadows.append(alt.Chart(ONE).mark_rect(color="black", opacity=0.07).encode(
        x=alt.value(1481 - 3 * k), x2=alt.value(2271.3 + 3 * k),
        y=alt.value(-100), y2=alt.value(400 + 3 * k)))
inset_box = alt.Chart(ONE).mark_rect(color="white").encode(
    x=alt.value(1471), x2=alt.value(IX1), y=alt.value(-100), y2=alt.value(390))

in_x = alt.Chart(pairs(EYE_X)).transform_filter(in_range).mark_line(
    color="#0000FF", strokeWidth=2.2).encode(
    x=alt.X("t:Q", scale=ixs, axis=None), y=alt.Y("v:Q", scale=iys, axis=None))
in_y = alt.Chart(pairs(EYE_Y)).transform_filter(in_range).mark_line(
    color="#FF0000", strokeWidth=2.2).encode(
    x=alt.X("t:Q", scale=ixs, axis=None), y=alt.Y("v:Q", scale=iys, axis=None))
in_s = alt.Chart(segs(SACCADE)).transform_filter(in_range).mark_line(
    color="#000000", strokeWidth=4.5).encode(
    x=alt.X("t:Q", scale=ixs, axis=None), y=alt.Y("v:Q", scale=iys, axis=None), detail="seg:N")

in_xdom = alt.Chart(ONE).mark_rule(color="#333333", strokeWidth=2).encode(
    x=alt.value(IX0), x2=alt.value(IX1), y=alt.value(IY0))
in_ydom = alt.Chart(ONE).mark_rule(color="#333333", strokeWidth=2).encode(
    x=alt.value(IX0), y=alt.value(-100), y2=alt.value(IY0))
in_xt = alt.Chart(ticks_df(INSET_X_TICKS)).mark_rule(color="#333333", strokeWidth=2).encode(
    x=alt.X("v:Q", scale=ixs, axis=None), y=alt.value(IY0), y2=alt.value(IY0 - 7))
in_yt = alt.Chart(ticks_df(INSET_Y_TICKS)).mark_rule(color="#333333", strokeWidth=2).encode(
    y=alt.Y("v:Q", scale=iys, axis=None), x=alt.value(IX0), x2=alt.value(IX0 + 8))
in_xl = alt.Chart(ticks_df(INSET_X_TICKS)).mark_text(
    font=FONT, fontSize=52, color=TXT, align="center", baseline="alphabetic").encode(
    x=alt.X("v:Q", scale=ixs, axis=None), y=alt.value(387.5), text="lab:N")
in_yl = alt.Chart(ticks_df(INSET_Y_TICKS)).mark_text(
    font=FONT, fontSize=52, color=TXT, align="right", baseline="alphabetic", dy=24.6).encode(
    y=alt.Y("v:Q", scale=iys, axis=None), x=alt.value(IX0 - 19), text="lab:N")

inset = alt.layer(*shadows, inset_box, in_x, in_y, in_s,
                  in_xdom, in_ydom, in_xt, in_yt, in_xl, in_yl)

chart = alt.layer(main, legend, inset).resolve_scale(
    x="independent", y="independent"
).properties(
    width=W, height=H,
    padding={"left": 184, "top": 80, "right": 508, "bottom": 158},
    autosize=alt.AutoSizeParams(type="none"),
).configure(background="white").configure_view(stroke="transparent", strokeWidth=0)

chart.save("out.html", embed_options={"renderer": "svg", "actions": False})
